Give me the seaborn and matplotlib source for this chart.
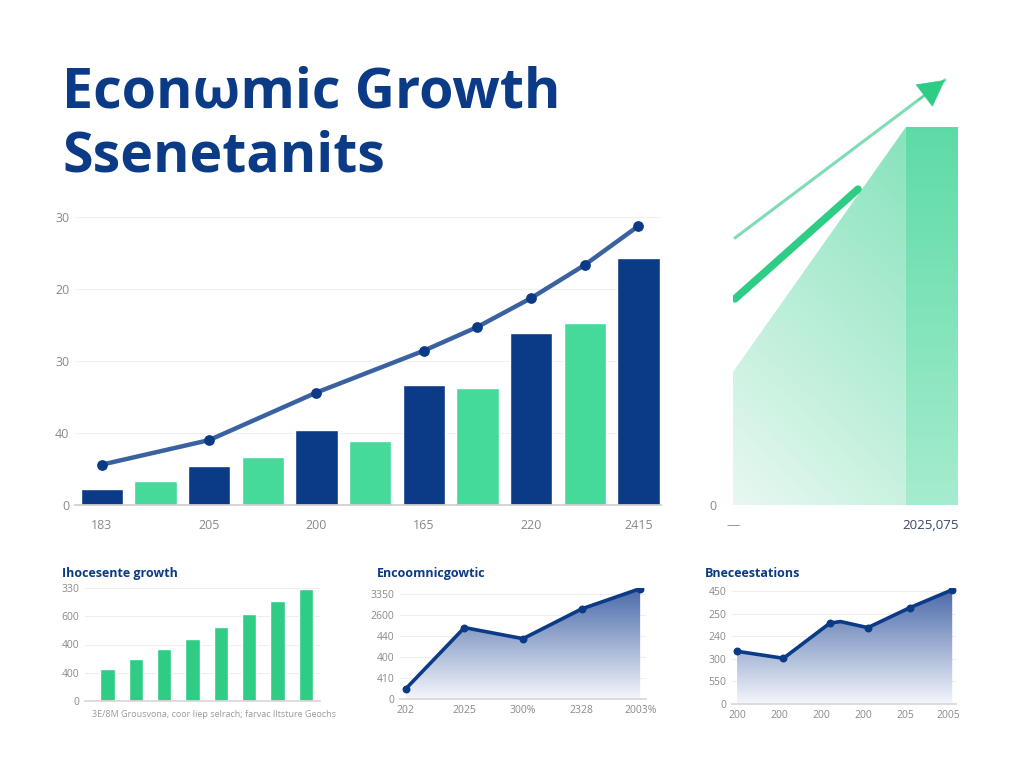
import numpy as np
import matplotlib.pyplot as plt
from matplotlib.colors import LinearSegmentedColormap
from matplotlib.patches import Patch
import seaborn as sns

sns.set_theme(style="white")
plt.rcParams['font.family'] = ['Open Sans', 'Liberation Sans', 'DejaVu Sans']

NAVY = "#0b3a86"
GREEN = "#45d99a"
TICK = "#8a8a8a"

# --------------------------------------------------
# main chart
main_bar_vals = [2.2, 3.3, 5.4, 6.7, 10.4, 8.9, 16.7, 16.2, 23.8, 25.3, 34.3]
main_line_idx = [0, 2, 4, 6, 7, 8, 9, 10]
main_line_vals = [5.6, 9.0, 15.6, 21.4, 24.7, 28.7, 33.3, 38.7]
main_xtick_pos = [0, 2, 4, 6, 8, 10]
main_xtick_labels = ["183", "205", "200", "165", "220", "2415"]
main_ytick_labels = ["0", "40", "30", "20", "30"]

# right side growth graphic
side_area_x = [0, 7.72]
side_area_y = [30.6, 86.9]
side_bar_x = [7.72]
side_bar_h = [86.9]
side_arrow_x = [0.09, 9.46]
side_arrow_y = [61.4, 97.7]
side_line_x = [0.09, 5.58]
side_line_y = [47.4, 72.6]
side_xtick_labels = ["\u2014", "2025,075"]

# small panels
p1_title = "Ihocesente growth"
p1_vals = [112, 150, 185, 220, 261, 309, 353, 398]
p1_ytick_labels = ["0", "400", "400", "600", "330"]
p1_xlabel = "3E/8M Grousvona, coor Iiep selrach; farvac Iltsture Geochs"

p2_title = "Encoomnicgowtic"
p2_x = [0, 1, 2, 3, 4]
p2_vals = [49, 341, 288, 430, 527]
p2_xtick_labels = ["202", "2025", "300%", "2328", "2003%"]
p2_ytick_labels = ["0", "410", "400", "440", "2600", "3350"]

p3_title = "Bneceestations"
p3_x = [0, 1.1, 2.2, 2.45, 3.1, 4.1, 5.1]
p3_vals = [234, 203, 359, 366, 339, 428, 507]
p3_xtick_labels = ["200", "200", "200", "200", "205", "2005"]
p3_ytick_labels = ["0", "550", "300", "240", "250", "450"]


def gradient_clip(ax, clip, extent, c_low, c_high, diag=0.0, zorder=1):
    cmap = LinearSegmentedColormap.from_list("g", [c_low, c_high])
    yy, xx = np.mgrid[0:1:200j, 0:1:200j]
    img = ax.imshow((1 - diag) * yy + diag * xx, cmap=cmap, aspect="auto",
                    extent=extent, origin="lower", zorder=zorder, vmin=0, vmax=1)
    if isinstance(clip, Patch):
        img.set_clip_path(clip)
    else:
        img.set_clip_path(clip.get_paths()[0], transform=ax.transData)
    return img


def area_gradient(ax, x, y, c_low, c_high, diag=0.0):
    poly = ax.fill_between(x, y, 0, facecolor="none", edgecolor="none")
    gradient_clip(ax, poly, [min(x), max(x), 0, max(y)], c_low, c_high, diag)


def style_small(ax, yticks, ylabels, xticks, xlabels):
    ax.set_yticks(yticks)
    ax.set_yticklabels(ylabels)
    ax.set_xticks(xticks)
    ax.set_xticklabels(xlabels)
    ax.tick_params(axis="both", colors=TICK, labelsize=7.5, length=0, pad=4)
    ax.grid(axis="y", color="#eeeeee", linewidth=0.8)
    ax.set_axisbelow(True)
    sns.despine(ax=ax, left=True)
    ax.spines["bottom"].set_color("#d8d8d8")
    ax.set_xlabel("")
    ax.set_ylabel("")


fig = plt.figure(figsize=(10.24, 7.68), dpi=100)
fig.patch.set_facecolor("white")

fig.text(62 / 1024, 1 - 107 / 768, "Econ\u03c9mic Growth", fontsize=40,
         fontweight="bold", color=NAVY, va="baseline")
fig.text(62 / 1024, 1 - 172 / 768, "Ssenetanits", fontsize=40,
         fontweight="bold", color=NAVY, va="baseline")

# ---- main chart
ax = fig.add_axes([75 / 1024, 1 - 505 / 768, 586 / 1024, 292 / 768])
idx = list(range(len(main_bar_vals)))
bar_pal = [NAVY if i % 2 == 0 else GREEN for i in idx]
sns.barplot(x=idx, y=main_bar_vals, hue=idx, palette=bar_pal, legend=False,
            width=0.79, saturation=1, ax=ax, zorder=2)
sns.lineplot(x=main_line_idx, y=main_line_vals, color="#3b62a0", linewidth=3.2,
             ax=ax, zorder=3)
ax.scatter(main_line_idx, main_line_vals, s=45, color=NAVY, zorder=4)
ax.set_xlim(-0.5, 10.42)
ax.set_ylim(0, 40.5)
ax.set_yticks([0, 10, 20, 30, 40])
ax.set_yticklabels(main_ytick_labels)
ax.set_xticks(main_xtick_pos)
ax.set_xticklabels(main_xtick_labels)
ax.tick_params(axis="both", colors=TICK, labelsize=9, length=0)
ax.tick_params(axis="x", pad=10)
ax.tick_params(axis="y", pad=4)
ax.grid(axis="y", color="#f0f0f0", linewidth=0.8)
ax.set_axisbelow(True)
sns.despine(ax=ax, left=True)
ax.spines["bottom"].set_color("#cfcfcf")

# ---- right side graphic
ax2 = fig.add_axes([733 / 1024, 1 - 505 / 768, 224 / 1024, 435 / 768])
area = ax2.fill_between(side_area_x, side_area_y, 0, facecolor="none", edgecolor="none")
gradient_clip(ax2, area, [0, 7.72, 0, 86.9], "#e8f8f1", "#86e3bb", diag=0.3)
bars = ax2.bar(side_bar_x, side_bar_h, width=2.28, align="edge",
               facecolor="none", edgecolor="none")
gradient_clip(ax2, bars[0], [7.72, 10, 0, 86.9], "#a6ecce", "#5ddba6", zorder=2)
# thin arrow shaft, then a solid head at its tip
ax2.plot(side_arrow_x, side_arrow_y, color="#7fdcb4", lw=2.2,
         solid_capstyle="round", zorder=5)
ax2.annotate("", xy=(side_arrow_x[1], side_arrow_y[1]),
             xytext=(side_arrow_x[1] - 1.2, side_arrow_y[1] - 4.65),
             arrowprops=dict(arrowstyle="-|>,head_length=1.5,head_width=0.8",
                             color="#2fcc85", lw=0.5, shrinkA=0, shrinkB=0),
             zorder=6)
sns.lineplot(x=side_line_x, y=side_line_y, color="#2fcc85", linewidth=5.5,
             ax=ax2, zorder=5, solid_capstyle="round")
ax2.set_xlim(0, 10)
ax2.set_ylim(0, 100)
ax2.set_yticks([0])
ax2.set_yticklabels(["0"])
ax2.set_xticks([0, 8.8])
ax2.set_xticklabels(side_xtick_labels)
ax2.tick_params(axis="y", colors=TICK, labelsize=9, length=0, pad=12)
ax2.tick_params(axis="x", labelsize=9.5, length=0, pad=10)
for lab, col in zip(ax2.get_xticklabels(), [TICK, "#3a4866"]):
    lab.set_color(col)
for s in ax2.spines.values():
    s.set_visible(False)
ax2.set_facecolor("none")

# ---- panel 1
a1 = fig.add_axes([85 / 1024, 1 - 701 / 768, 235 / 1024, 113 / 768])
sns.barplot(x=list(range(len(p1_vals))), y=p1_vals, color="#2fcc85", saturation=1,
            width=0.51, ax=a1, zorder=2)
a1.set_xlim(-0.8, 7.5)
a1.set_ylim(0, 400)
style_small(a1, [0, 100, 200, 300, 400], p1_ytick_labels, [], [])
a1.set_xlabel(p1_xlabel, fontsize=6.5, color="#9a9a9a", labelpad=8)
a1.xaxis.set_label_coords(0.55, -0.08)
a1.xaxis.label.set_va("top")
fig.text(62 / 1024, 1 - 577 / 768, p1_title, fontsize=9, fontweight="bold",
         color=NAVY, va="baseline")

# ---- panel 2
a2 = fig.add_axes([400 / 1024, 1 - 699 / 768, 246 / 1024, 111 / 768])
area_gradient(a2, p2_x, p2_vals, "#f4f6fb", "#4a6aaa")
sns.lineplot(x=p2_x, y=p2_vals, color=NAVY, linewidth=2.6, ax=a2, zorder=3)
a2.scatter(p2_x, p2_vals, s=22, color=NAVY, zorder=4)
a2.set_xlim(-0.1, 4.1)
a2.set_ylim(0, 530)
style_small(a2, [0, 100, 200, 300, 400, 500], p2_ytick_labels, p2_x, p2_xtick_labels)
fig.text(377 / 1024, 1 - 577 / 768, p2_title, fontsize=9, fontweight="bold",
         color=NAVY, va="baseline")

# ---- panel 3
a3 = fig.add_axes([732 / 1024, 1 - 704 / 768, 224 / 1024, 116 / 768])
area_gradient(a3, p3_x, p3_vals, "#f4f6fb", "#4a6aaa")
sns.lineplot(x=p3_x, y=p3_vals, color=NAVY, linewidth=2.6, ax=a3, zorder=3)
mk = [0, 1, 2, 4, 5, 6]
a3.scatter([p3_x[i] for i in mk], [p3_vals[i] for i in mk], s=22, color=NAVY, zorder=4)
a3.set_xlim(-0.12, 5.19)
a3.set_ylim(0, 515)
style_small(a3, [0, 100, 200, 300, 400, 500], p3_ytick_labels,
            [0, 1, 2, 3, 4, 5], p3_xtick_labels)
fig.text(705 / 1024, 1 - 577 / 768, p3_title, fontsize=9, fontweight="bold",
         color=NAVY, va="baseline")

fig.savefig("out.png", dpi=100, facecolor="white")
